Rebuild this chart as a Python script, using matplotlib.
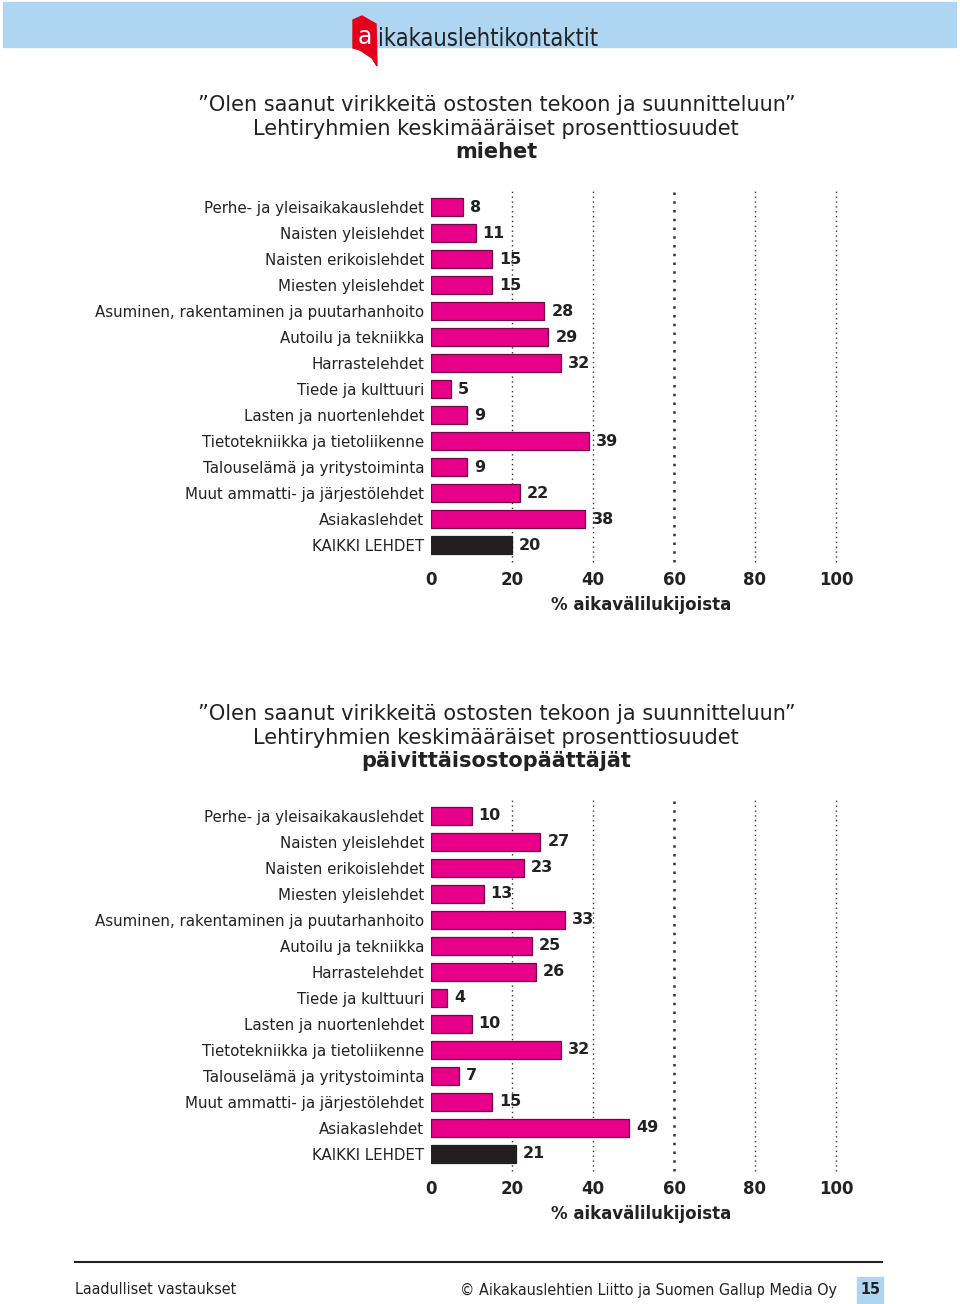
import matplotlib.pyplot as plt
from matplotlib.patches import Rectangle, Polygon

categories = ['Perhe- ja yleisaikakauslehdet', 'Naisten yleislehdet',
              'Naisten erikoislehdet', 'Miesten yleislehdet',
              'Asuminen, rakentaminen ja puutarhanhoito', 'Autoilu ja tekniikka',
              'Harrastelehdet', 'Tiede ja kulttuuri', 'Lasten ja nuortenlehdet',
              'Tietotekniikka ja tietoliikenne', 'Talouselämä ja yritystoiminta',
              'Muut ammatti- ja järjestölehdet', 'Asiakaslehdet', 'KAIKKI LEHDET']
miehet = [8, 11, 15, 15, 28, 29, 32, 5, 9, 39, 9, 22, 38, 20]
paivittais = [10, 27, 23, 13, 33, 25, 26, 4, 10, 32, 7, 15, 49, 21]
xticks = [0, 20, 40, 60, 80, 100]

title1 = '”Olen saanut virikkeitä ostosten tekoon ja suunnitteluun”'
title2 = 'Lehtiryhmien keskimääräiset prosenttiosuudet'
groups = ['miehet', 'päivittäisostopäättäjät']
xlabel = '% aikavälilukijoista'

PINK = '#E8008A'
EDGE = '#6E0A40'
DARK = '#231F20'
TXT = '#222222'

fig = plt.figure(figsize=(9.6, 13.04), dpi=100)


def chart(ax, values, group, title_y):
  n = len(values)
  ypos = list(range(n))
  colors = [PINK] * (n - 1) + [DARK]
  edges = [EDGE] * (n - 1) + [DARK]
  for x in xticks[1:]:
    lw = 1.8 if x == 60 else 1.0
    ax.axvline(x, ymin=-0.01, ymax=1.01, color='#333333',
               linestyle=(0, (1, 2.5)), linewidth=lw, zorder=0, clip_on=False)
  ax.barh(ypos, values, height=0.7, color=colors, edgecolor=edges,
          linewidth=0.9, zorder=2)
  for y, v in zip(ypos, values):
    ax.annotate(str(v), (v, y), xytext=(5, 0), textcoords='offset points',
                va='center', ha='left', fontsize=11.5, fontweight='bold',
                color=TXT)
  ax.set_xlim(0, 100)
  ax.set_ylim(n - 0.5, -0.5)
  ax.set_yticks(ypos)
  ax.set_yticklabels(categories, fontsize=10.8, color=TXT)
  ax.set_xticks(xticks)
  ax.set_xticklabels([str(x) for x in xticks], fontsize=12, fontweight='bold',
                     color=TXT)
  ax.tick_params(length=0, axis='y', pad=5)
  ax.tick_params(length=0, axis='x', pad=9)
  for s in ax.spines.values():
    s.set_visible(False)
  ax.set_xlabel(xlabel, fontsize=12, fontweight='bold', color=TXT)
  ax.xaxis.set_label_coords(0.52, -0.105)
  fig.text(0.517, title_y, title1, ha='center', va='center', fontsize=15,
           color=TXT)
  fig.text(0.517, title_y - 24 / 1304, title2, ha='center', va='center',
           fontsize=15, color=TXT)
  fig.text(0.517, title_y - 47 / 1304, group, ha='center', va='center',
           fontsize=15, fontweight='bold', color=TXT)


ax1 = fig.add_axes([431 / 960, 1 - 558 / 1304, 405 / 960, 364 / 1304])
chart(ax1, miehet, groups[0], 1 - 105 / 1304)
ax2 = fig.add_axes([431 / 960, 1 - 1167 / 1304, 405 / 960, 364 / 1304])
chart(ax2, paivittais, groups[1], 1 - 714 / 1304)

# header band and logo
fig.patches.append(Rectangle((3 / 960, 1 - 47 / 1304), 953 / 960, 45 / 1304,
                             transform=fig.transFigure, color='#AED5F1', zorder=0))
flag = [(353, 20), (362, 16), (376, 24), (377, 66), (372, 58), (360, 50), (353, 48)]
fig.patches.append(Polygon([(x / 960, 1 - y / 1304) for x, y in flag], closed=True,
                           transform=fig.transFigure, color='#E3001B', zorder=1))
fig.text(365 / 960, 1 - 37 / 1304, 'a', ha='center', va='center', fontsize=17,
         color='white')
fig.text(378 / 960, 1 - 39 / 1304, 'ikakauslehtikontaktit', ha='left',
         va='center', fontsize=17, color=TXT, family='DejaVu Sans',
         fontstretch='condensed')

# footer
fig.add_artist(plt.Line2D([75 / 960, 882 / 960], [1 - 1262 / 1304] * 2,
                          transform=fig.transFigure, color=TXT, lw=1.5))
fig.text(75 / 960, 1 - 1290 / 1304, 'Laadulliset vastaukset', ha='left',
         va='center', fontsize=11.5, color=TXT, family='DejaVu Sans',
         fontstretch='condensed')
fig.text(837 / 960, 1 - 1290 / 1304,
         '© Aikakauslehtien Liitto ja Suomen Gallup Media Oy', ha='right',
         va='center', fontsize=11.5, color=TXT, family='DejaVu Sans',
         fontstretch='condensed')
fig.patches.append(Rectangle((857 / 960, 0), 26 / 960, 27 / 1304,
                             transform=fig.transFigure, color='#AED5F1', zorder=0))
fig.text(870 / 960, 1 - 1290 / 1304, '15', ha='center', va='center',
         fontsize=11.5, fontweight='bold', color=TXT, family='DejaVu Sans',
         fontstretch='condensed')

fig.savefig('out.png', dpi=100)
